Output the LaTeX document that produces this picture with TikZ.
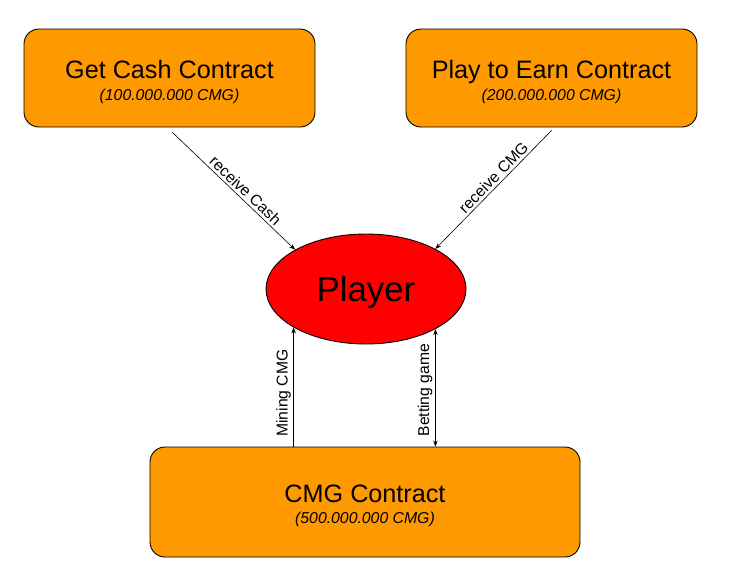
\documentclass[tikz,border=0pt]{standalone}
\usepackage{fontspec}
\setmainfont{Liberation Sans}
\usetikzlibrary{shapes.geometric,arrows.meta}
\definecolor{boxorange}{HTML}{FF9900}
\definecolor{playerred}{HTML}{FF0000}
\begin{document}
\begin{tikzpicture}[x=1pt,y=-1pt,
  contract/.style={draw=black, fill=boxorange, rounded corners=15pt, line width=0.9pt, inner sep=0pt},
  title/.style={font=\fontsize{25.2}{29}\selectfont, inner sep=0pt, anchor=base},
  amount/.style={font=\fontsize{15.8}{19}\selectfont\itshape, inner sep=0pt, anchor=base},
  lbl/.style={font=\fontsize{15.7}{18}\selectfont, inner sep=2.5pt},
  conn/.style={line width=0.6pt, -{Stealth[length=6pt,width=4.5pt]}},
  bconn/.style={line width=0.9pt, {Stealth[length=6pt,width=4.5pt]}-{Stealth[length=6pt,width=4.5pt]}},
]
\useasboundingbox (0,0) rectangle (730,579);
% boxes
\node[contract, minimum width=291pt, minimum height=98pt] (gc) at (169.5,78) {};
\node[contract, minimum width=291pt, minimum height=98pt] (pe) at (551.5,78) {};
\node[contract, minimum width=430pt, minimum height=110pt] (cmg) at (365,502) {};
\node[ellipse, draw=black, fill=playerred, line width=0.9pt, minimum width=200pt, minimum height=110pt, inner sep=0pt] (pl) at (366,289) {};
% texts
\node[title] (gct) at (169.5,78) {Get Cash Contract};
\node[amount] (gca) at (169.5,100) {(100.000.000 CMG)};
\node[title] (pet) at (551.5,78) {Play to Earn Contract};
\node[amount] (pea) at (551.5,100) {(200.000.000 CMG)};
\node[title] (cmgt) at (365,502) {CMG Contract};
\node[amount] (cmga) at (365,523) {(500.000.000 CMG)};
\node[font=\fontsize{34.8}{40}\selectfont, inner sep=0pt, anchor=base] (plt) at (366,301) {Player};
% connectors
\coordinate (s1) at (172,132);
\coordinate (s2) at (552,130);
\draw[conn] (s1) -- node[lbl, sloped, above, pos=0.55] {receive Cash} (pl.151.2);
\draw[conn] (s2) -- node[lbl, sloped, above, pos=0.45] {receive CMG} (pl.30);
\draw[conn] (cmg.north -| pl.208.6) -- node[lbl, sloped, above, pos=0.45] {Mining CMG} (pl.208.6);
\draw[bconn] (cmg.north -| pl.330) -- node[lbl, sloped, above, pos=0.48] {Betting game} (pl.330);
\end{tikzpicture}
\end{document}
